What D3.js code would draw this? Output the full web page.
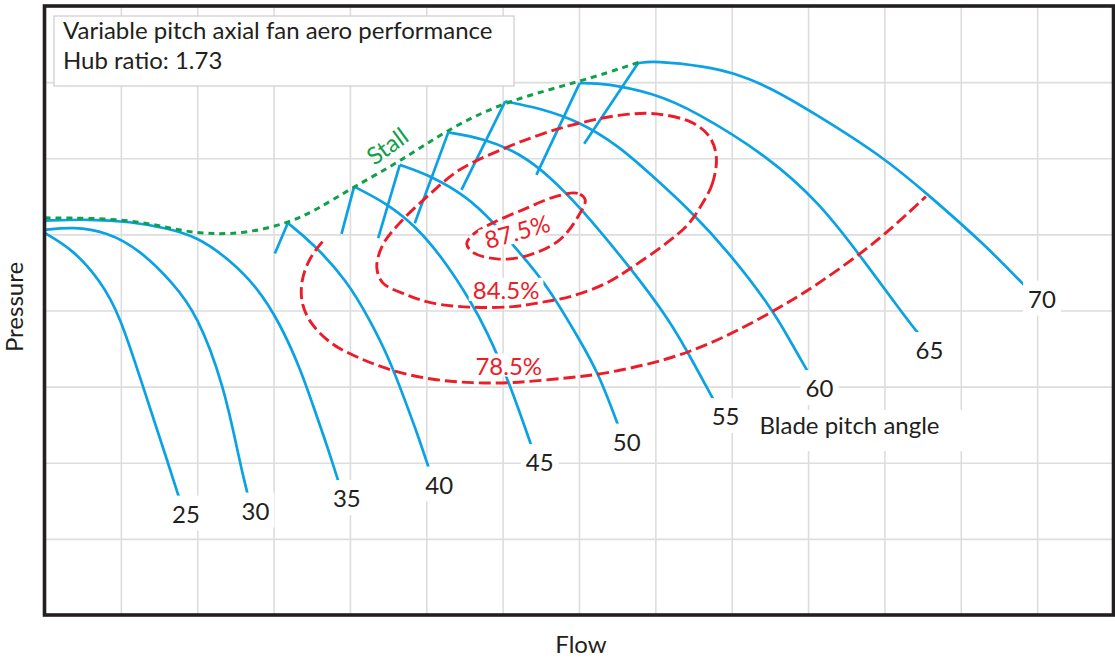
<!DOCTYPE html>
<html><head><meta charset="utf-8">
<script src="https://cdn.jsdelivr.net/npm/d3@7"></script>
<style>
body{margin:0;background:#fff;}
svg{display:block;}
text{font-family:Lato,"Open Sans",sans-serif;}
</style>
</head><body>
<svg id="chart" width="1115" height="658"></svg>
<script>
// ---------- DATA (flow units 0..14, pressure units 0..8) ----------
const pitchAngles = [25, 30, 35, 40, 45, 50, 55, 60, 65, 70];

// blade pitch curves (from stall peak / left edge to the right end)
const curve25 = [[0,5.02],[0.373,4.80],[0.726,4.40],[0.988,3.94],[1.289,3.0],[1.617,2.0],[1.76,1.55]];
const curve30 = [[0,5.059],[0.373,5.099],[0.818,5.033],[1.25,4.796],[1.682,4.363],[1.996,3.955],[2.35,3.022],[2.559,1.997],[2.657,1.6]];
const curve35 = [[0,5.181],[0.596,5.2],[1.119,5.168],[1.603,5.081],[1.996,4.971],[2.428,4.665],[2.781,4.31],[3.082,3.837],[3.357,3.219],[3.514,2.76],[3.698,2.234],[3.855,1.735]];
const curve40 = [[3.187,5.15],[3.514,4.884],[3.956,4.40],[4.261,3.876],[4.522,3.35],[4.719,2.825],[4.889,2.365],[5.028,1.945]];
const curve45 = [[4.055,5.628],[4.479,5.41],[4.872,5.102],[5.264,4.622],[5.569,4.139],[5.788,3.745],[6.093,3.045],[6.381,2.208]];
const curve50 = [[4.653,5.913],[5.085,5.76],[5.526,5.497],[5.853,5.19],[6.267,4.708],[6.59,4.32],[7.009,3.614],[7.266,3.154],[7.52,2.47]];
const curve55 = [[5.288,6.34],[5.743,6.264],[6.224,6.067],[6.617,5.76],[7.009,5.365],[7.664,4.573],[8.187,3.876],[8.515,3.285],[8.785,2.786]];
const curve60 = [[6.034,6.748],[6.486,6.658],[7.009,6.482],[7.533,6.154],[7.969,5.76],[8.449,5.322],[8.973,4.753],[9.539,4.008],[9.757,3.614],[10.006,3.18]];
const curve65 = [[7.009,6.987],[7.359,6.987],[7.969,6.855],[8.492,6.636],[9.483,6.022],[10.15,5.41],[10.656,4.757],[11.3,3.876],[11.46,3.68]];
const curve70 = [[7.775,7.25],[7.99,7.28],[8.667,7.205],[9.02,7.122],[9.483,6.942],[10.046,6.614],[10.983,6.022],[11.6,5.497],[12.29,4.888],[12.84,4.323]];
const bladeCurves = [curve25, curve30, curve35, curve40, curve45, curve50, curve55, curve60, curve65, curve70];

// start of the short stall hook rising to each curve's peak (null = none)
const hookStarts = [null, null, null, [3.017,4.75], [3.89,5.007], [4.37,4.95], [4.849,5.147], [5.461,5.585], [6.442,5.782], [7.068,6.189]];

// where each blade-angle label sits
const angleLabelAt = [[1.852,1.327],[2.762,1.367],[3.959,1.531],[5.17,1.708],[6.486,2.004],[7.624,2.273],[8.92,2.608],[10.15,2.976],[11.59,3.476],[13.063,4.152]];

// stall line
const stallLine = [[0,5.217],[1.12,5.21],[1.813,5.037],[2.205,5.003],[2.65,5.016],[3.19,5.147],[3.563,5.322],[4.055,5.628],[4.65,5.953],[5.27,6.373],[6.027,6.748],[7.009,7.004],[7.794,7.263]];

// efficiency contours
const effLevels = ["87.5%", "84.5%", "78.5%"];
const eff875 = [[7.081,5.453],[6.983,5.539],[6.682,5.493],[6.263,5.322],[5.87,5.151],[5.622,5.007],[5.53,4.875],[5.622,4.757],[5.923,4.678],[6.315,4.717],[6.747,4.928],[7.009,5.27]];
const eff845 = [[8.798,6.022],[8.75,5.677],[8.606,5.388],[8.423,5.125],[8.148,4.888],[7.703,4.573],[7.363,4.362],[6.918,4.192],[6.486,4.104],[6.132,4.051],[5.609,4.043],[5.085,4.096],[4.745,4.205],[4.431,4.363],[4.352,4.573],[4.431,4.862],[4.653,5.151],[5.007,5.493],[5.438,5.848],[6.041,6.137],[6.486,6.308],[6.918,6.439],[7.572,6.57],[8.017,6.583],[8.488,6.465],[8.71,6.281]];
const eff785 = [[3.641,4.905],[3.475,4.704],[3.357,4.402],[3.357,4.074],[3.501,3.798],[3.737,3.574],[3.959,3.443],[4.483,3.22],[5.046,3.088],[5.609,3.045],[6.132,3.045],[6.695,3.101],[7.271,3.154],[7.991,3.311],[8.462,3.46],[8.92,3.657],[9.365,3.89],[9.757,4.113],[10.15,4.363],[10.7,4.753],[11.132,5.112],[11.543,5.497]];
const effLabelAt = [[6.191,5.033],[6.045,4.267],[6.08,3.272]];
const effLabelAngle = [-16, 0, 0];

const titleLines = ["Variable pitch axial fan aero performance", "Hub ratio: 1.73"];
const xTitle = "Flow", yTitle = "Pressure";
const angleTitle = "Blade pitch angle", angleTitleAt = [10.543, 2.49];
const stallTitle = "Stall", stallTitleAt = [4.49, 6.16];

// ---------- STYLE ----------
const BLUE = "#0aa2e3", RED = "#ec1c28", GREEN = "#11a04a", INK = "#231f20", GRID = "#dddddd";
const FS = 24;

const svg = d3.select("#chart");
const x = d3.scaleLinear().domain([0, 14]).range([44.5, 1113.5]);
const y = d3.scaleLinear().domain([0, 8]).range([615, 6]);

// grid via axes
svg.append("g").attr("transform", `translate(0,${y(0)})`)
  .call(d3.axisBottom(x).tickValues(d3.range(1, 14)).tickSize(-(y(0) - y(8))).tickFormat(""))
  .call(g => g.select(".domain").remove())
  .selectAll("line").attr("stroke", GRID).attr("stroke-width", 1.6);
svg.append("g").attr("transform", `translate(${x(0)},0)`)
  .call(d3.axisLeft(y).tickValues(d3.range(1, 8)).tickSize(-(x(14) - x(0))).tickFormat(""))
  .call(g => g.select(".domain").remove())
  .selectAll("line").attr("stroke", GRID).attr("stroke-width", 1.6);

const smooth = d3.line().x(d => x(d[0])).y(d => y(d[1])).curve(d3.curveBasis);
const straight = d3.line().x(d => x(d[0])).y(d => y(d[1]));
const closed = d3.line().x(d => x(d[0])).y(d => y(d[1])).curve(d3.curveCatmullRomClosed.alpha(0.5));

// blade curves
const gb = svg.append("g").attr("fill", "none").attr("stroke", BLUE).attr("stroke-width", 2.7).attr("stroke-linejoin", "round");
bladeCurves.forEach((c, i) => {
  gb.append("path").attr("d", smooth(c));
  if (hookStarts[i]) gb.append("path").attr("d", straight([hookStarts[i], c[0]]));
});

// efficiency contours
const gr = svg.append("g").attr("fill", "none").attr("stroke", RED).attr("stroke-width", 2.9).attr("stroke-dasharray", "12,5");
gr.append("path").attr("d", closed(eff875));
gr.append("path").attr("d", closed(eff845));
gr.append("path").attr("d", smooth(eff785));

// stall line
svg.append("path").attr("d", smooth(stallLine)).attr("fill", "none").attr("stroke", GREEN)
  .attr("stroke-width", 3).attr("stroke-dasharray", "6,5");

// labels with white background
function label(txt, px, py, opt = {}) {
  const g = svg.append("g").attr("transform", `translate(${px},${py}) rotate(${opt.angle || 0})`);
  const t = g.append("text").text(txt).attr("text-anchor", "middle").attr("dy", "0.36em")
    .attr("font-size", opt.size || FS).attr("fill", opt.color || INK);
  if (opt.bg !== false) {
    const b = t.node().getBBox();
    const p = opt.pad || [4, 4, 4, 4];
    g.insert("rect", "text").attr("x", b.x - p[3]).attr("y", b.y - p[0])
      .attr("width", b.width + p[1] + p[3]).attr("height", b.height + p[0] + p[2]).attr("fill", "#fff");
  }
  return g;
}
pitchAngles.forEach((a, i) => label(String(a), x(angleLabelAt[i][0]), y(angleLabelAt[i][1]), {pad: [3, 5, 3, 5]}));
effLevels.forEach((e, i) => label(e, x(effLabelAt[i][0]), y(effLabelAt[i][1]), {color: RED, angle: effLabelAngle[i], pad: [-3, 4, -3, 4]}));
label(angleTitle, x(angleTitleAt[0]), y(angleTitleAt[1]), {pad: [0, 25, 12, 15]});
label(stallTitle, x(stallTitleAt[0]), y(stallTitleAt[1]), {color: GREEN, angle: -36, size: 24, bg: false});

// title box
const tb = svg.append("g");
tb.append("rect").attr("x", 54).attr("y", 16).attr("width", 460).attr("height", 70)
  .attr("fill", "#fff").attr("stroke", "#cccccc").attr("stroke-width", 1.2);
titleLines.forEach((s, i) => tb.append("text").attr("x", 63).attr("y", 39 + i * 30)
  .attr("font-size", FS).attr("fill", INK).text(s));

// axis titles
svg.append("text").attr("x", 581).attr("y", 653).attr("text-anchor", "middle")
  .attr("font-size", FS).attr("fill", INK).text(xTitle);
svg.append("text").attr("transform", "translate(23,307) rotate(-90)").attr("text-anchor", "middle")
  .attr("font-size", FS).attr("fill", INK).text(yTitle);

// frame
svg.append("rect").attr("x", x(0)).attr("y", y(8)).attr("width", x(14) - x(0)).attr("height", y(0) - y(8))
  .attr("fill", "none").attr("stroke", INK).attr("stroke-width", 3.6);
</script>
</body></html>
